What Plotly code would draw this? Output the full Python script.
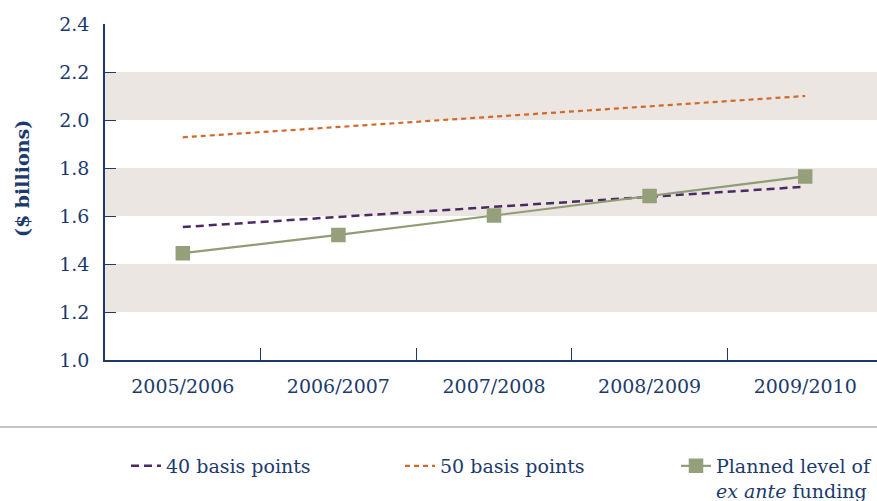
import plotly.graph_objects as go

categories = ["2005/2006", "2006/2007", "2007/2008", "2008/2009", "2009/2010"]
bp40 = [1.554, 1.596, 1.638, 1.680, 1.722]
bp50 = [1.928, 1.971, 2.014, 2.057, 2.100]
planned = [1.445, 1.521, 1.602, 1.683, 1.765]
y_ticks = [1.0, 1.2, 1.4, 1.6, 1.8, 2.0, 2.2, 2.4]
bands = [(1.2, 1.4), (1.6, 1.8), (2.0, 2.2)]

NAVY = "#1c3b6c"
FONT = "DejaVu Serif"
W, H = 877, 501
ML, MT, MB = 105, 24, 141
PW = W - ML
PH = H - MT - MB

def px_x(p):
    return (p - ML) / PW

def px_y(p):
    return (H - MB - p) / PH

fig = go.Figure()
fig.add_trace(go.Scatter(
    x=categories, y=bp40, mode="lines", name="40 basis points",
    line=dict(color="#4a2a62", width=2.5, dash="8px,5px"), legend="legend",
    showlegend=True))
fig.add_trace(go.Scatter(
    x=categories, y=bp50, mode="lines", name="50 basis points",
    line=dict(color="#d2692a", width=2.2, dash="5px,4px"), legend="legend2",
    showlegend=True))
fig.add_trace(go.Scatter(
    x=categories, y=planned, mode="lines+markers",
    name="Planned level of<br><i>ex ante</i> funding",
    line=dict(color="#8f9c76", width=2.2),
    marker=dict(symbol="square", size=12, color="#95a07b",
                line=dict(color="#95a07b", width=2.5)),
    legend="legend3", showlegend=True))

shapes = []
for lo, hi in bands:
    shapes.append(dict(type="rect", xref="paper", x0=0, x1=1, yref="y",
                       y0=lo, y1=hi, fillcolor="#ebe6e2", line=dict(width=0),
                       layer="below"))
shapes.append(dict(type="line", xref="paper", x0=px_x(0), x1=1, yref="paper",
                   y0=px_y(427), y1=px_y(427),
                   line=dict(color="#c4c4c4", width=2)))

legend_common = dict(orientation="h", xanchor="left", yanchor="top",
                     bgcolor="rgba(0,0,0,0)", valign="top",
                     font=dict(family=FONT, size=19, color=NAVY))

LEG_TOP = 447
fig.update_layout(
    width=W, height=H, showlegend=True,
    margin=dict(l=ML, r=0, t=MT, b=MB, autoexpand=False),
    paper_bgcolor="white", plot_bgcolor="white",
    font=dict(family=FONT, size=19, color=NAVY),
    shapes=shapes,
    legend=dict(x=px_x(126), y=px_y(LEG_TOP), **legend_common),
    legend2=dict(x=px_x(400), y=px_y(LEG_TOP), **legend_common),
    legend3=dict(x=px_x(676), y=px_y(LEG_TOP), **legend_common),
    annotations=[dict(text="<b>($ billions)</b>", textangle=-90,
                      xref="paper", yref="paper", x=px_x(22), y=px_y(179),
                      showarrow=False, xanchor="center", yanchor="middle",
                      font=dict(family=FONT, size=19, color=NAVY))],
)
fig.update_xaxes(
    type="category", range=[-0.5, 4.5 - 6 / 155.6],
    showline=True, linecolor=NAVY, linewidth=1.5,
    ticks="inside", tickson="boundaries", ticklen=12, tickcolor=NAVY,
    tickwidth=1.2, showgrid=False, zeroline=False, automargin=False,
    ticklabelstandoff=8, tickfont=dict(family=FONT, size=19, color=NAVY))
fig.update_yaxes(
    range=[1.0, 2.4], tickvals=y_ticks, tickformat=".1f",
    showline=True, linecolor=NAVY, linewidth=1.5,
    ticks="inside", ticklen=11, tickcolor=NAVY, tickwidth=1.2,
    showgrid=False, zeroline=False, automargin=False,
    ticklabelstandoff=10, tickfont=dict(family=FONT, size=19, color=NAVY))

fig.write_html("out.html")
